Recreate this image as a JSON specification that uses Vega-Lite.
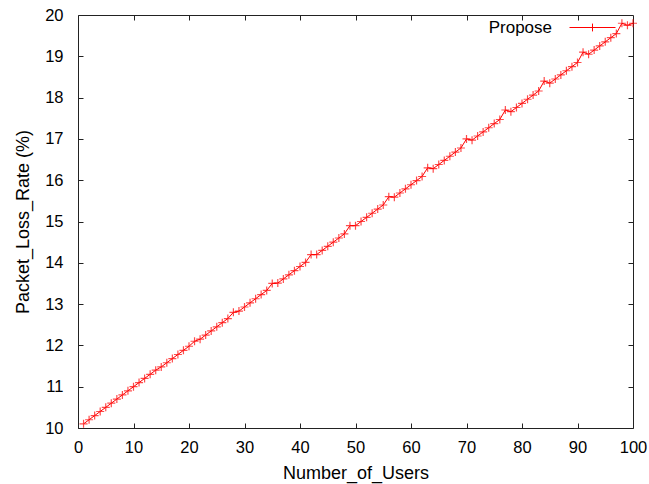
{
  "$schema": "https://vega.github.io/schema/vega-lite/v6.json",
  "autosize": "none",
  "width": 555,
  "height": 413,
  "padding": {"left": 78, "top": 15, "right": 16, "bottom": 56},
  "background": "white",
  "config": {
    "view": {"stroke": "#222", "strokeWidth": 1},
    "font": "Liberation Sans",
    "axis": {"grid": false, "domain": false, "tickColor": "#222", "tickSize": 5, "offset": -5, "labelFlush": false, "labelOverlap": false, "labelColor": "#000", "labelFont": "Liberation Sans", "labelFontSize": 16.5, "titleFont": "Liberation Sans", "titleFontSize": 18, "titleFontWeight": "normal", "titleColor": "#000"}
  },
  "data": {"values": [
    {"users": 1, "loss": 10.1}, {"users": 2, "loss": 10.2}, {"users": 3, "loss": 10.3}, {"users": 4, "loss": 10.4}, {"users": 5, "loss": 10.5},
    {"users": 6, "loss": 10.6}, {"users": 7, "loss": 10.7}, {"users": 8, "loss": 10.8}, {"users": 9, "loss": 10.9}, {"users": 10, "loss": 11.0},
    {"users": 11, "loss": 11.1}, {"users": 12, "loss": 11.2}, {"users": 13, "loss": 11.3}, {"users": 14, "loss": 11.4}, {"users": 15, "loss": 11.48},
    {"users": 16, "loss": 11.58}, {"users": 17, "loss": 11.68}, {"users": 18, "loss": 11.78}, {"users": 19, "loss": 11.88}, {"users": 20, "loss": 11.98},
    {"users": 21, "loss": 12.1}, {"users": 22, "loss": 12.15}, {"users": 23, "loss": 12.25}, {"users": 24, "loss": 12.35}, {"users": 25, "loss": 12.45},
    {"users": 26, "loss": 12.55}, {"users": 27, "loss": 12.65}, {"users": 28, "loss": 12.8}, {"users": 29, "loss": 12.83}, {"users": 30, "loss": 12.93},
    {"users": 31, "loss": 13.03}, {"users": 32, "loss": 13.13}, {"users": 33, "loss": 13.23}, {"users": 34, "loss": 13.33}, {"users": 35, "loss": 13.5},
    {"users": 36, "loss": 13.51}, {"users": 37, "loss": 13.61}, {"users": 38, "loss": 13.71}, {"users": 39, "loss": 13.81}, {"users": 40, "loss": 13.91},
    {"users": 41, "loss": 14.01}, {"users": 42, "loss": 14.2}, {"users": 43, "loss": 14.2}, {"users": 44, "loss": 14.3}, {"users": 45, "loss": 14.4},
    {"users": 46, "loss": 14.5}, {"users": 47, "loss": 14.6}, {"users": 48, "loss": 14.7}, {"users": 49, "loss": 14.9}, {"users": 50, "loss": 14.9},
    {"users": 51, "loss": 15.0}, {"users": 52, "loss": 15.1}, {"users": 53, "loss": 15.2}, {"users": 54, "loss": 15.3}, {"users": 55, "loss": 15.4},
    {"users": 56, "loss": 15.6}, {"users": 57, "loss": 15.59}, {"users": 58, "loss": 15.69}, {"users": 59, "loss": 15.79}, {"users": 60, "loss": 15.89},
    {"users": 61, "loss": 15.99}, {"users": 62, "loss": 16.09}, {"users": 63, "loss": 16.3}, {"users": 64, "loss": 16.28}, {"users": 65, "loss": 16.38},
    {"users": 66, "loss": 16.48}, {"users": 67, "loss": 16.58}, {"users": 68, "loss": 16.68}, {"users": 69, "loss": 16.78}, {"users": 70, "loss": 17.0},
    {"users": 71, "loss": 16.97}, {"users": 72, "loss": 17.07}, {"users": 73, "loss": 17.17}, {"users": 74, "loss": 17.27}, {"users": 75, "loss": 17.37},
    {"users": 76, "loss": 17.47}, {"users": 77, "loss": 17.7}, {"users": 78, "loss": 17.66}, {"users": 79, "loss": 17.76}, {"users": 80, "loss": 17.86},
    {"users": 81, "loss": 17.96}, {"users": 82, "loss": 18.06}, {"users": 83, "loss": 18.16}, {"users": 84, "loss": 18.4}, {"users": 85, "loss": 18.35},
    {"users": 86, "loss": 18.45}, {"users": 87, "loss": 18.55}, {"users": 88, "loss": 18.65}, {"users": 89, "loss": 18.75}, {"users": 90, "loss": 18.85},
    {"users": 91, "loss": 19.1}, {"users": 92, "loss": 19.05}, {"users": 93, "loss": 19.15}, {"users": 94, "loss": 19.25}, {"users": 95, "loss": 19.35},
    {"users": 96, "loss": 19.45}, {"users": 97, "loss": 19.55}, {"users": 98, "loss": 19.8}, {"users": 99, "loss": 19.75}, {"users": 100, "loss": 19.8}
  ]},
  "layer": [
    {
      "mark": {"type": "line", "strokeWidth": 1},
      "encoding": {
        "x": {"field": "users", "type": "quantitative", "scale": {"domain": [0, 100], "nice": false},
              "axis": {"orient": "bottom", "values": [0,10,20,30,40,50,60,70,80,90,100], "title": "Number_of_Users", "labelPadding": 11, "titlePadding": 9}},
        "y": {"field": "loss", "type": "quantitative", "scale": {"domain": [10, 20], "zero": false, "nice": false},
              "axis": {"orient": "left", "values": [10,11,12,13,14,15,16,17,18,19,20], "title": "Packet_Loss_Rate (%)", "labelPadding": 15, "titlePadding": 12}},
        "color": {"datum": "Propose", "type": "nominal", "scale": {"range": ["#ff0000"]},
                  "legend": {"title": null, "orient": "none", "legendX": 491, "legendY": -11, "padding": 0, "symbolType": "M-1,0H1M0,-0.17V0.17", "symbolSize": 2116, "symbolStrokeWidth": 1, "symbolStrokeColor": "#ff0000", "symbolFillColor": "transparent", "labelAlign": "right", "labelOffset": -64, "labelFontSize": 17, "labelColor": "#000", "labelFont": "Liberation Sans"}}
      }
    },
    {
      "mark": {"type": "point", "shape": "M-1,0H1M0,-1V1", "size": 64, "filled": false, "strokeWidth": 1.2, "color": "#ff0000"},
      "encoding": {
        "x": {"field": "users", "type": "quantitative", "scale": {"domain": [0, 100], "nice": false},
              "axis": {"orient": "top", "values": [10,20,30,40,50,60,70,80,90], "labels": false, "title": null}},
        "y": {"field": "loss", "type": "quantitative", "scale": {"domain": [10, 20], "zero": false, "nice": false},
              "axis": {"orient": "right", "values": [11,12,13,14,15,16,17,18,19], "labels": false, "title": null}}
      }
    }
  ],
  "resolve": {"axis": {"x": "independent", "y": "independent"}}
}
